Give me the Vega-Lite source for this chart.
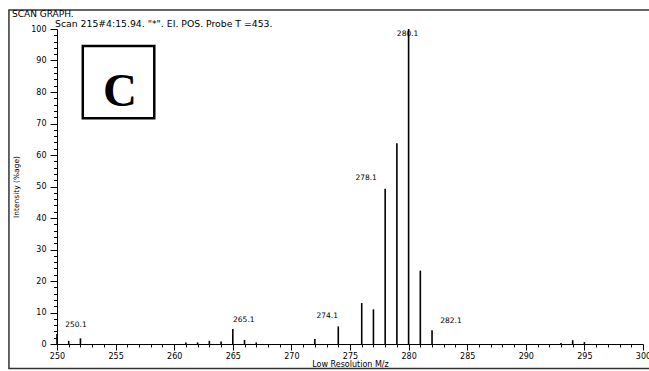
{
  "$schema": "https://vega.github.io/schema/vega-lite/v6.json",
  "width": 586,
  "height": 315,
  "autosize": "none",
  "padding": {"left": 57, "right": 6, "top": 29, "bottom": 27},
  "background": "white",
  "title": {
    "text": "SCAN GRAPH.",
    "anchor": "start",
    "frame": "group",
    "dx": -45,
    "offset": -10,
    "font": "DejaVu Sans",
    "fontSize": 9,
    "fontWeight": "normal",
    "color": "black"
  },
  "config": {
    "view": {"stroke": null},
    "font": "DejaVu Sans",
    "axis": {
      "domainColor": "black",
      "tickColor": "black",
      "labelColor": "black",
      "titleColor": "black",
      "grid": false,
      "labelFont": "DejaVu Sans",
      "titleFont": "DejaVu Sans",
      "titleFontWeight": "normal",
      "labelOverlap": false,
      "labelBound": false,
      "labelFlush": false
    }
  },
  "data": {
    "values": [
      {"mz": 250, "intensity": 3.2, "label": "250.1"},
      {"mz": 251, "intensity": 1.0},
      {"mz": 252, "intensity": 1.8},
      {"mz": 261, "intensity": 0.5},
      {"mz": 262, "intensity": 0.5},
      {"mz": 263, "intensity": 1.0},
      {"mz": 264, "intensity": 0.8},
      {"mz": 265, "intensity": 4.8, "label": "265.1"},
      {"mz": 266, "intensity": 1.3},
      {"mz": 267, "intensity": 0.5},
      {"mz": 272, "intensity": 1.6},
      {"mz": 274, "intensity": 5.6, "label": "274.1"},
      {"mz": 276, "intensity": 13.0},
      {"mz": 277, "intensity": 11.0},
      {"mz": 278, "intensity": 49.3, "label": "278.1"},
      {"mz": 279, "intensity": 63.7},
      {"mz": 280, "intensity": 100, "label": "280.1"},
      {"mz": 281, "intensity": 23.3},
      {"mz": 282, "intensity": 4.4, "label": "282.1"},
      {"mz": 293, "intensity": 0.3},
      {"mz": 294, "intensity": 1.2},
      {"mz": 295, "intensity": 0.6}
    ]
  },
  "encoding": {
    "x": {
      "field": "mz",
      "type": "quantitative",
      "scale": {"domain": [250, 300], "nice": false, "zero": false},
      "axis": {
        "title": "Low Resolution M/z",
        "titleFontSize": 8,
        "titlePadding": 0,
        "values": [250,251,252,253,254,255,256,257,258,259,260,261,262,263,264,265,266,267,268,269,270,271,272,273,274,275,276,277,278,279,280,281,282,283,284,285,286,287,288,289,290,291,292,293,294,295,296,297,298,299,300],
        "labelExpr": "datum.value % 5 === 0 ? datum.label : ''",
        "tickSize": {"condition": {"test": "datum.value % 5 === 0", "value": 6}, "value": 3},
        "labelFontSize": 8,
        "labelPadding": 2
      }
    },
    "y": {
      "field": "intensity",
      "type": "quantitative",
      "scale": {"domain": [0, 100], "nice": false},
      "axis": {
        "title": "Intensity (%age)",
        "titleFontSize": 7.5,
        "titlePadding": 10,
        "values": [0,2,4,6,8,10,12,14,16,18,20,22,24,26,28,30,32,34,36,38,40,42,44,46,48,50,52,54,56,58,60,62,64,66,68,70,72,74,76,78,80,82,84,86,88,90,92,94,96,98,100],
        "labelExpr": "datum.value % 10 === 0 ? datum.label : ''",
        "tickSize": {"condition": {"test": "datum.value % 10 === 0", "value": 7}, "value": 3.5},
        "labelFontSize": 8,
        "labelPadding": 4
      }
    }
  },
  "layer": [
    {
      "transform": [{"filter": "datum.mz == 280"}],
      "mark": {"type": "rect", "fill": null, "stroke": "#333", "strokeWidth": 1.5},
      "encoding": {
        "x": {"datum": 245.9},
        "x2": {"datum": 302},
        "y": {"datum": 106.0},
        "y2": {"datum": -7.8}
      }
    },
    {
      "mark": {"type": "rule", "color": "black", "strokeWidth": 1.6},
      "encoding": {"y2": {"datum": 0}}
    },
    {
      "transform": [{"filter": "datum.mz == 280"}],
      "mark": {"type": "rect", "fill": "white", "stroke": "black", "strokeWidth": 2.5},
      "encoding": {
        "x": {"datum": 252.2},
        "x2": {"datum": 258.3},
        "y": {"datum": 94.6},
        "y2": {"datum": 71.7}
      }
    },
    {
      "transform": [{"filter": "datum.mz == 280"}],
      "mark": {"type": "text", "text": "C", "font": "Liberation Serif", "fontWeight": "bold", "fontSize": 47, "align": "center", "baseline": "alphabetic", "color": "black"},
      "encoding": {"x": {"datum": 255.38}, "y": {"datum": 75.7}}
    },
    {
      "transform": [{"filter": "datum.mz == 280"}],
      "mark": {"type": "text", "text": "Scan 215#4:15.94. \"*\". EI. POS. Probe T =453.", "fontSize": 9.3, "align": "left", "baseline": "bottom", "dx": -2, "dy": 0, "color": "black"},
      "encoding": {"x": {"datum": 250}, "y": {"datum": 100}}
    },
    {
      "transform": [{"filter": "datum.mz == 250 || datum.mz == 282"}],
      "mark": {"type": "text", "fontSize": 7.5, "align": "center", "baseline": "middle", "dx": 19, "dy": -9, "color": "black"},
      "encoding": {"text": {"field": "label"}}
    },
    {
      "transform": [{"filter": "datum.mz == 265"}],
      "mark": {"type": "text", "fontSize": 7.5, "align": "center", "baseline": "middle", "dx": 11, "dy": -9, "color": "black"},
      "encoding": {"text": {"field": "label"}}
    },
    {
      "transform": [{"filter": "datum.mz == 274"}],
      "mark": {"type": "text", "fontSize": 7.5, "align": "center", "baseline": "middle", "dx": -11, "dy": -10, "color": "black"},
      "encoding": {"text": {"field": "label"}}
    },
    {
      "transform": [{"filter": "datum.mz == 278"}],
      "mark": {"type": "text", "fontSize": 7.5, "align": "center", "baseline": "middle", "dx": -19, "dy": -11, "color": "black"},
      "encoding": {"text": {"field": "label"}}
    },
    {
      "transform": [{"filter": "datum.mz == 280"}],
      "mark": {"type": "text", "fontSize": 7.5, "align": "center", "baseline": "middle", "dx": -1, "dy": 5, "color": "black"},
      "encoding": {"text": {"field": "label"}}
    }
  ]
}
